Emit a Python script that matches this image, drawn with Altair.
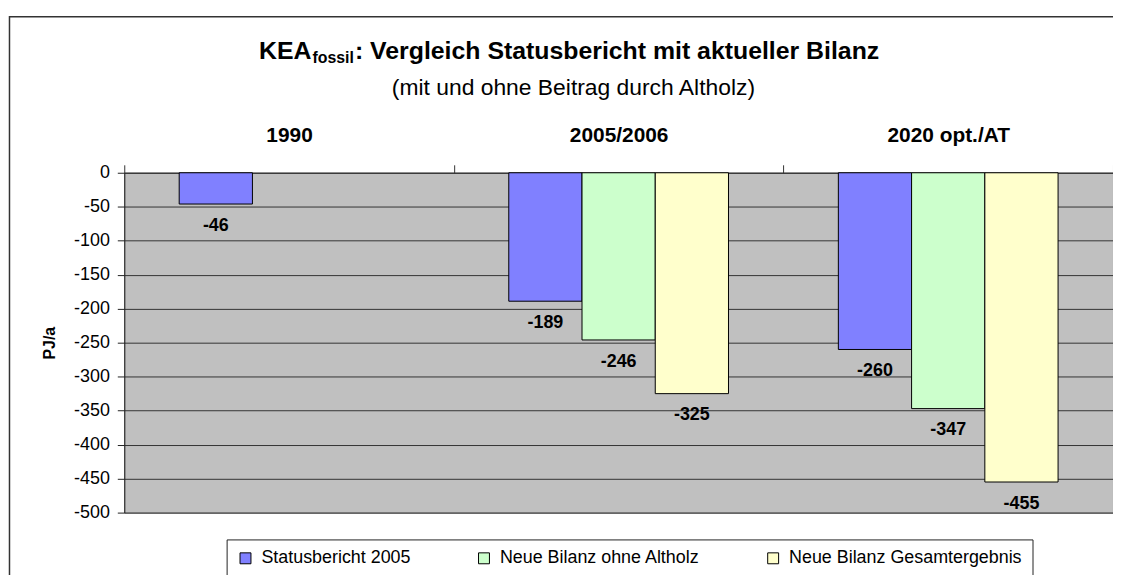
import altair as alt
import pandas as pd

# ---- data -------------------------------------------------------------
categories = ["1990", "2005/2006", "2020 opt./AT"]
series = ["Statusbericht 2005", "Neue Bilanz ohne Altholz", "Neue Bilanz Gesamtergebnis"]
statusbericht = [-46, -189, -260]
ohne_altholz = [None, -246, -347]
gesamt = [None, -325, -455]
colors = ["#8080FF", "#CCFFCC", "#FFFFCC"]
y_ticks = [0, -50, -100, -150, -200, -250, -300, -350, -400, -450, -500]

title_main = "KEA"
title_sub = "fossil"
title_rest = ": Vergleich Statusbericht mit aktueller Bilanz"
subtitle = "(mit und ohne Beitrag durch Altholz)"
y_title = "PJ/a"

rows = []
for s, vals in zip(series, [statusbericht, ohne_altholz, gesamt]):
    for c, v in zip(categories, vals):
        if v is not None:
            rows.append({"Kategorie": c, "Reihe": s, "Wert": v, "Label": str(v)})
df = pd.DataFrame(rows)

FONT = "Liberation Sans"
W, H = 995, 342

# ---- title layout (pixel positions relative to plot origin) ------------
T_SIZE, S_SIZE = 25, 16
kea_w = 2.111 * T_SIZE
sub_w = 2.612 * S_SIZE
rest_w = 21.173 * T_SIZE
total_w = kea_w + sub_w + rest_w
cx = 447.5
start = cx - total_w / 2
x_kea_right = start + kea_w
x_sub = x_kea_right + 1
x_rest = x_sub + sub_w + 1
y_title_base = -114

# ---- encodings --------------------------------------------------------
x_enc = alt.X(
    "Kategorie:N",
    sort=categories,
    scale=alt.Scale(domain=categories, paddingInner=0, paddingOuter=0),
    axis=alt.Axis(
        orient="top", title=None, labelAngle=0, labelFont=FONT, labelFontSize=21,
        labelFontWeight="bold", labelColor="black", tickBand="extent", tickSize=8,
        tickColor="#333", domainColor="#333", labelPadding=19, grid=False,
    ),
)
xoff_enc = alt.XOffset(
    "Reihe:N", sort=series,
    scale=alt.Scale(domain=series, paddingInner=0, paddingOuter=0.75),
)
y_enc = alt.Y(
    "Wert:Q",
    scale=alt.Scale(domain=[-500, 0], nice=False, zero=True),
    axis=alt.Axis(
        values=y_ticks, title=y_title, grid=True, gridColor="#333", gridWidth=1,
        tickSize=7, tickColor="#222", domainColor="#222", labelPadding=8,
        labelFont=FONT, labelFontSize=18, labelColor="black", labelOverlap=False,
        labelExpr="toString(datum.value)",
        titleFont=FONT, titleFontSize=16, titleFontWeight="bold", titleColor="black",
        titlePadding=16,
    ),
)

base = alt.Chart(df)

bars = base.mark_bar(stroke="black", strokeWidth=1).encode(
    x=x_enc,
    xOffset=xoff_enc,
    y=y_enc,
    color=alt.Color(
        "Reihe:N", sort=series,
        scale=alt.Scale(domain=series, range=colors),
        legend=alt.Legend(
            orient="none", legendX=103, legendY=369, direction="horizontal",
            title=None, labelFont=FONT, labelFontSize=18, labelColor="black",
            symbolType="square", symbolSize=121, symbolStrokeColor="black",
            symbolStrokeWidth=1, symbolOpacity=1, labelOffset=7,
            columnPadding=64, padding=10, strokeColor="#222",
            fillColor="white", labelLimit=400,
        ),
    ),
)

labels = base.mark_text(
    baseline="middle", dy=22, font=FONT, fontSize=18, fontWeight="bold", color="black"
).encode(
    x=x_enc,
    xOffset=xoff_enc,
    y=y_enc,
    text=alt.Text("Label:N"),
)

frame = alt.Chart(pd.DataFrame({"k": [0]})).mark_rect(
    fillOpacity=0, stroke="#333", strokeWidth=1.5, clip=False
).encode(
    x=alt.value(-115.5), y=alt.value(-157), x2=alt.value(1300), y2=alt.value(700)
)

t1 = alt.Chart(pd.DataFrame({"t": [title_main]})).mark_text(
    align="right", baseline="alphabetic", font=FONT, fontSize=T_SIZE,
    fontWeight="bold", color="black"
).encode(x=alt.value(x_kea_right), y=alt.value(y_title_base), text="t:N")

t2 = alt.Chart(pd.DataFrame({"t": [title_sub]})).mark_text(
    align="left", baseline="alphabetic", font=FONT, fontSize=S_SIZE,
    fontWeight="bold", color="black"
).encode(x=alt.value(x_sub), y=alt.value(y_title_base + 4), text="t:N")

t3 = alt.Chart(pd.DataFrame({"t": [title_rest]})).mark_text(
    align="left", baseline="alphabetic", font=FONT, fontSize=T_SIZE,
    fontWeight="bold", color="black"
).encode(x=alt.value(x_rest), y=alt.value(y_title_base), text="t:N")

t4 = alt.Chart(pd.DataFrame({"t": [subtitle]})).mark_text(
    align="center", baseline="alphabetic", font=FONT, fontSize=23, color="black"
).encode(x=alt.value(452), y=alt.value(-78), text="t:N")

chart = alt.layer(frame, bars, labels, t1, t2, t3, t4).properties(
    width=W, height=H,
    autosize=alt.AutoSizeParams(type="none"),
    padding={"left": 117, "top": 164, "right": 0, "bottom": 61},
    background="white",
).configure(font=FONT).configure_view(fill="#C0C0C0", stroke="#808080", strokeWidth=1)

chart.save("out.html", embed_options={"renderer": "svg", "actions": False})
